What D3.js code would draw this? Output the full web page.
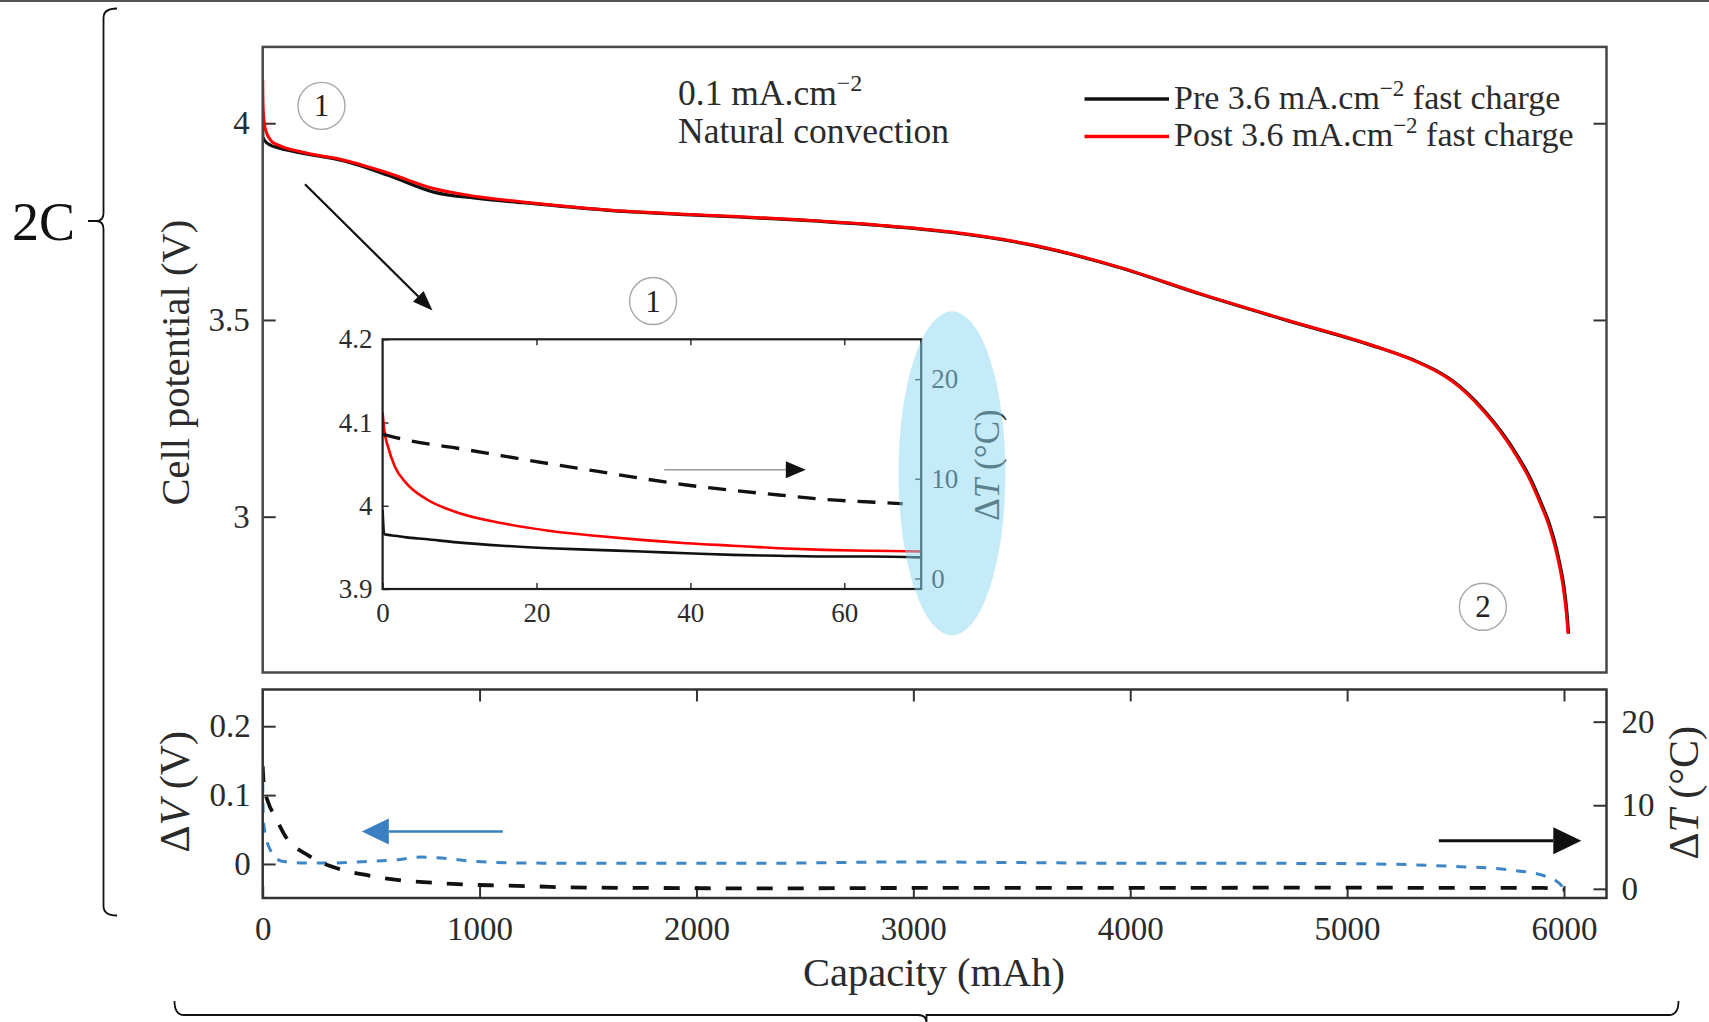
<!DOCTYPE html>
<html>
<head>
<meta charset="utf-8">
<script src="https://cdn.jsdelivr.net/npm/d3@7"></script>
<style>
  body { margin: 0; background: #fff; }
  svg { display: block; font-family: "Liberation Serif", "Times New Roman", serif; }
</style>
</head>
<body>
<svg id="fig" width="1709" height="1022"></svg>
<script>
// ---- Discharge curves, 0.1 mA.cm^-2, natural convection (capacity mAh, cell potential V) ----
const preCap  = [0, 0.3, 10, 40, 70, 170, 376, 582, 788, 994, 1200, 1611, 2023, 2434, 2846, 3169, 3557, 3945, 4333, 4721, 5109, 5308, 5405, 5485, 5555, 5632, 5709, 5786, 5847, 5894, 5932, 5955, 5977, 6000, 6014, 6021];
const preV    = [3.995, 3.965, 3.955, 3.943, 3.938, 3.925, 3.904, 3.867, 3.825, 3.809, 3.798, 3.778, 3.766, 3.755, 3.740, 3.723, 3.689, 3.634, 3.564, 3.499, 3.436, 3.398, 3.373, 3.346, 3.314, 3.270, 3.218, 3.155, 3.095, 3.036, 2.983, 2.941, 2.890, 2.822, 2.754, 2.703];
const postCap = [0, 0.7, 1.6, 3.1, 5.5, 9.7, 15.6, 39.5, 70, 170, 376, 582, 788, 994, 1200, 1611, 2023, 2434, 2846, 3169, 3557, 3945, 4333, 4721, 5109, 5303, 5400, 5480, 5550, 5627, 5704, 5781, 5842, 5889, 5927, 5950, 5973, 5996, 6011, 6019];
const postV   = [4.110, 4.071, 4.047, 4.027, 4.009, 3.992, 3.979, 3.955, 3.945, 3.928, 3.906, 3.873, 3.834, 3.813, 3.800, 3.779, 3.767, 3.756, 3.741, 3.724, 3.690, 3.635, 3.565, 3.500, 3.437, 3.398, 3.373, 3.346, 3.314, 3.270, 3.218, 3.155, 3.095, 3.036, 2.983, 2.941, 2.890, 2.822, 2.754, 2.703];

// ---- Difference panel: potential difference (V) and temperature difference (°C) ----
const dVCap = [0, 3, 18, 34, 88, 195, 318, 502, 625, 733, 825, 963, 1194, 1501, 2270, 3000, 3500, 4000, 4500, 5000, 5487, 5740, 5917, 5992, 6005];
const dV    = [0.118, 0.065, 0.035, 0.021, 0.004, 0.0015, 0.0015, 0.004, 0.0063, 0.010, 0.0087, 0.004, 0.0015, 0.001, 0.001, 0.003, 0.002, 0.001, 0.001, 0.0005, -0.0035, -0.0083, -0.018, -0.0326, -0.047];
const dTCap = [0, 5, 26, 57, 103, 210, 349, 487, 641, 794, 963, 1102, 1271, 1424, 1655, 1962, 2223, 3000, 4000, 5000, 5500, 5900, 6000];
const dT    = [14.7, 12.5, 10.3, 8.7, 6.35, 4.0, 2.4, 1.6, 1.0, 0.71, 0.48, 0.40, 0.28, 0.16, 0.12, 0.08, 0.04, 0.10, 0.10, 0.15, 0.10, 0.10, -0.10];

// ---- Zoom on the first 70 mAh ----
const insetCap  = [0, 0.2, 0.7, 1.6, 3.1, 5.5, 9.7, 15.6, 21.6, 27.6, 33.6, 39.5, 45.5, 51.5, 57.4, 63.4, 70];
const insetPost = [4.112, 4.092, 4.071, 4.047, 4.027, 4.009, 3.992, 3.979, 3.970, 3.964, 3.959, 3.955, 3.952, 3.949, 3.947, 3.946, 3.945];
const insetPre  = [3.995, 3.966, 3.965, 3.964, 3.962, 3.960, 3.956, 3.952, 3.949, 3.947, 3.945, 3.943, 3.941, 3.940, 3.939, 3.939, 3.938];
const insetDTCap = [0, 3.7, 9.7, 15.6, 21.6, 27.6, 33.6, 39.5, 45.5, 51.5, 57.4, 63.4, 67.6];
const insetDT    = [14.47, 13.8, 13.07, 12.3, 11.52, 10.79, 10.05, 9.38, 8.84, 8.38, 7.94, 7.67, 7.5];

// ---- Ticks ----
const capTicks = [0, 1000, 2000, 3000, 4000, 5000, 6000];
const capTickLabels = ["0", "1000", "2000", "3000", "4000", "5000", "6000"];
const vTicks = [3, 3.5, 4];
const vTickLabels = ["3", "3.5", "4"];
const dVTicks = [0, 0.1, 0.2];
const dVTickLabels = ["0", "0.1", "0.2"];
const dTTicks = [0, 10, 20];
const dTTickLabels = ["0", "10", "20"];
const insetCapTicks = [0, 20, 40, 60];
const insetCapTickLabels = ["0", "20", "40", "60"];
const insetVTicks = [3.9, 4, 4.1, 4.2];
const insetVTickLabels = ["3.9", "4", "4.1", "4.2"];

const svg = d3.select("#fig");
const W = 1709, H = 1022;
const FONT = '"Liberation Serif", "Times New Roman", serif';
const INK = "#2b2b2b";
const TICK_FS = 33, INSET_FS = 27, TITLE_FS = 40.5;

// page rule at the very top
svg.append("line").attr("x1", 0).attr("x2", W).attr("y1", 1).attr("y2", 1)
  .attr("stroke", "#555").attr("stroke-width", 2);

// panel frames
const P = { l: 262.7, r: 1606.5, t: 46.9, b: 672.5 };   // potential panel
const B = { t: 689.5, b: 898 };                        // difference panel
const I = { l: 382.6, r: 921.2, t: 339.3, b: 589 };    // zoom inset

const x   = d3.scaleLinear().domain([0, 6196]).range([P.l, P.r]);
const yV  = d3.scaleLinear().domain([2.604, 4.194]).range([P.b, P.t]);
const yDV = d3.scaleLinear().domain([-0.0494, 0.2533]).range([B.b, B.t]);
const yDT = d3.scaleLinear().domain([-1.1, 23.85]).range([B.b, B.t]);
const xi  = d3.scaleLinear().domain([0, 70]).range([I.l, I.r]);
const yi  = d3.scaleLinear().domain([3.9, 4.2]).range([I.b, I.t]);
const yiT = d3.scaleLinear().domain([-1.06, 24.0]).range([I.b, I.t]);

function styleAxis(g, fs, tickW) {
  g.attr("font-family", FONT).attr("font-size", fs);
  g.select(".domain").remove();
  g.selectAll(".tick line").attr("stroke", "#333").attr("stroke-width", tickW || 2);
  g.selectAll(".tick text").attr("fill", INK);
}
const lbl = arr => (d, i) => arr[i];

const defs = svg.append("defs");
defs.append("clipPath").attr("id", "clipMain").append("rect")
  .attr("x", P.l).attr("y", P.t).attr("width", P.r - P.l).attr("height", P.b - P.t);
defs.append("clipPath").attr("id", "clipDiff").append("rect")
  .attr("x", P.l).attr("y", B.t).attr("width", P.r - P.l).attr("height", B.b - B.t);
defs.append("clipPath").attr("id", "clipInset").append("rect")
  .attr("x", I.l).attr("y", I.t).attr("width", I.r - I.l).attr("height", I.b - I.t);

// ================= potential panel =================
styleAxis(svg.append("g").attr("transform", `translate(${P.l},0)`)
  .call(d3.axisLeft(yV).tickValues(vTicks).tickFormat(lbl(vTickLabels)).tickSize(-13).tickPadding(13)), TICK_FS);
styleAxis(svg.append("g").attr("transform", `translate(${P.r},0)`)
  .call(d3.axisRight(yV).tickValues(vTicks).tickFormat("").tickSize(-13)), TICK_FS);

const lineV = d3.line().x(d => x(d[0])).y(d => yV(d[1])).curve(d3.curveMonotoneX);
const gMain = svg.append("g").attr("clip-path", "url(#clipMain)");
gMain.append("path").datum(d3.zip(preCap, preV)).attr("d", lineV)
  .attr("fill", "none").attr("stroke", "#111").attr("stroke-width", 3.2);
gMain.append("path").datum(d3.zip(postCap, postV)).attr("d", lineV)
  .attr("fill", "none").attr("stroke", "#ff0000").attr("stroke-width", 3);

svg.append("rect").attr("x", P.l).attr("y", P.t).attr("width", P.r - P.l).attr("height", P.b - P.t)
  .attr("fill", "none").attr("stroke", "#474747").attr("stroke-width", 2.5);

// ================= difference panel =================
styleAxis(svg.append("g").attr("transform", `translate(0,${B.b})`)
  .call(d3.axisBottom(x).tickValues(capTicks).tickFormat(lbl(capTickLabels)).tickSize(-12).tickPadding(19)), TICK_FS);
styleAxis(svg.append("g").attr("transform", `translate(0,${B.t})`)
  .call(d3.axisTop(x).tickValues(capTicks.slice(1)).tickFormat("").tickSize(-12)), TICK_FS);
styleAxis(svg.append("g").attr("transform", `translate(${P.l},0)`)
  .call(d3.axisLeft(yDV).tickValues(dVTicks).tickFormat(lbl(dVTickLabels)).tickSize(-13).tickPadding(12)), TICK_FS);
styleAxis(svg.append("g").attr("transform", `translate(${P.r},0)`)
  .call(d3.axisRight(yDT).tickValues(dTTicks).tickFormat(lbl(dTTickLabels)).tickSize(-13).tickPadding(15)), TICK_FS);

const gDiff = svg.append("g").attr("clip-path", "url(#clipDiff)");
gDiff.append("path").datum(d3.zip(dVCap, dV))
  .attr("d", d3.line().x(d => x(d[0])).y(d => yDV(d[1])).curve(d3.curveMonotoneX))
  .attr("fill", "none").attr("stroke", "#3f86c6").attr("stroke-width", 3).attr("stroke-dasharray", "10,10");
gDiff.append("path").datum(d3.zip(dTCap, dT))
  .attr("d", d3.line().x(d => x(d[0])).y(d => yDT(d[1])).curve(d3.curveMonotoneX))
  .attr("fill", "none").attr("stroke", "#111").attr("stroke-width", 3.8).attr("stroke-dasharray", "16,15");

svg.append("rect").attr("x", P.l).attr("y", B.t).attr("width", P.r - P.l).attr("height", B.b - B.t)
  .attr("fill", "none").attr("stroke", "#333").attr("stroke-width", 2.5);

// ================= inset =================
svg.append("rect").attr("x", I.l).attr("y", I.t).attr("width", I.r - I.l).attr("height", I.b - I.t)
  .attr("fill", "#fff");
styleAxis(svg.append("g").attr("transform", `translate(${I.l},0)`)
  .call(d3.axisLeft(yi).tickValues(insetVTicks).tickFormat(lbl(insetVTickLabels)).tickSize(-6).tickPadding(10)), INSET_FS, 1.5);
styleAxis(svg.append("g").attr("transform", `translate(0,${I.b})`)
  .call(d3.axisBottom(xi).tickValues(insetCapTicks).tickFormat(lbl(insetCapTickLabels)).tickSize(-6).tickPadding(14)), INSET_FS, 1.5);
styleAxis(svg.append("g").attr("transform", `translate(0,${I.t})`)
  .call(d3.axisTop(xi).tickValues(insetCapTicks.slice(1)).tickFormat("").tickSize(-6)), INSET_FS, 1.5);
styleAxis(svg.append("g").attr("transform", `translate(${I.r},0)`)
  .call(d3.axisRight(yiT).tickValues(dTTicks).tickFormat(lbl(dTTickLabels)).tickSize(-6).tickPadding(10)), INSET_FS, 1.5);

const gIn = svg.append("g").attr("clip-path", "url(#clipInset)");
const lineI = d3.line().x(d => xi(d[0])).y(d => yi(d[1])).curve(d3.curveMonotoneX);
gIn.append("path").datum(d3.zip(insetCap, insetPre)).attr("d", lineI)
  .attr("fill", "none").attr("stroke", "#111").attr("stroke-width", 2.6);
gIn.append("path").datum(d3.zip(insetCap, insetPost)).attr("d", lineI)
  .attr("fill", "none").attr("stroke", "#ff0000").attr("stroke-width", 2.6);
gIn.append("path").datum(d3.zip(insetDTCap, insetDT))
  .attr("d", d3.line().x(d => xi(d[0])).y(d => yiT(d[1])).curve(d3.curveMonotoneX))
  .attr("fill", "none").attr("stroke", "#111").attr("stroke-width", 3.4).attr("stroke-dasharray", "18,12");

svg.append("rect").attr("x", I.l).attr("y", I.t).attr("width", I.r - I.l).attr("height", I.b - I.t)
  .attr("fill", "none").attr("stroke", "#1c1c1c").attr("stroke-width", 2.2);

// ΔT label of the inset's right axis
const tIn = svg.append("text").attr("font-size", 35).attr("fill", INK).attr("text-anchor", "middle")
  .attr("transform", `translate(999,465) rotate(-90)`);
tIn.append("tspan").text("Δ");
tIn.append("tspan").attr("font-style", "italic").text("T");
tIn.append("tspan").text(" (°C)");

// highlight over the inset's temperature axis
svg.append("ellipse").attr("cx", xi(74)).attr("cy", yi(4.039)).attr("rx", 53.5).attr("ry", 162)
  .attr("fill", "rgb(139,213,241)").attr("fill-opacity", 0.5);

// ================= arrows =================
function arrow(x1, y1, x2, y2, o) {
  const a = Math.atan2(y2 - y1, x2 - x1);
  const bx = x2 - o.head * Math.cos(a), by = y2 - o.head * Math.sin(a);
  const px = -Math.sin(a) * o.half, py = Math.cos(a) * o.half;
  svg.append("line").attr("x1", x1).attr("y1", y1).attr("x2", bx).attr("y2", by)
    .attr("stroke", o.line).attr("stroke-width", o.w);
  svg.append("path").attr("d", `M${x2},${y2}L${bx + px},${by + py}L${bx - px},${by - py}Z`).attr("fill", o.fill);
}
// toward the zoomed start of discharge
arrow(x(195), yV(3.845), x(783), yV(3.524), { line: "#111", fill: "#111", w: 2.2, head: 20, half: 7.5 });
// inset dashed curve reads on the right axis
arrow(xi(36.6), yi(4.0432), xi(55.0), yi(4.0432), { line: "#9a9a9a", fill: "#111", w: 1.6, head: 20, half: 8.5 });
// ΔV curve reads on the left axis
arrow(x(1107), yDV(0.047), x(457), yDV(0.047), { line: "#3a7fc1", fill: "#3a7fc1", w: 2.5, head: 27, half: 13 });
// ΔT curve reads on the right axis
arrow(x(5423), yDT(5.76), x(6080), yDT(5.76), { line: "#111", fill: "#111", w: 3, head: 28, half: 13.5 });

// ================= circled markers =================
function marker(cx, cy, s) {
  svg.append("circle").attr("cx", cx).attr("cy", cy).attr("r", 23.5)
    .attr("fill", "none").attr("stroke", "#a8a8a8").attr("stroke-width", 1.4);
  svg.append("text").attr("x", cx).attr("y", cy + 10.5).attr("text-anchor", "middle")
    .attr("font-size", 31).attr("fill", "#222").text(s);
}
marker(x(271), yV(4.044), "1");
marker(x(1800), yV(3.548), "1");
marker(x(5626), yV(2.771), "2");

// ================= legend and condition =================
const cond1 = svg.append("text").attr("x", 678).attr("y", 105).attr("font-size", 35.5).attr("fill", INK);
cond1.append("tspan").text("0.1 mA.cm");
cond1.append("tspan").attr("dy", -14).attr("font-size", 24).text("−2");
svg.append("text").attr("x", 678).attr("y", 143).attr("font-size", 35.5).attr("fill", INK).text("Natural convection");

const legendItems = [
  { pre: "Pre 3.6 mA.cm", color: "#111", y: 99 },
  { pre: "Post 3.6 mA.cm", color: "#ff0000", y: 136.5 }
];
legendItems.forEach(it => {
  svg.append("line").attr("x1", 1084.5).attr("x2", 1169).attr("y1", it.y).attr("y2", it.y)
    .attr("stroke", it.color).attr("stroke-width", 3.5);
  const t = svg.append("text").attr("x", 1174).attr("y", it.y + 9.5).attr("font-size", 34).attr("fill", INK);
  t.append("tspan").text(it.pre);
  t.append("tspan").attr("dy", -13).attr("font-size", 23).text("−2");
  t.append("tspan").attr("dy", 13).text(" fast charge");
});

// ================= axis titles =================
svg.append("text").attr("font-size", TITLE_FS).attr("fill", INK).attr("text-anchor", "middle")
  .attr("transform", `translate(189,${(P.t + P.b) / 2 + 3}) rotate(-90)`).text("Cell potential (V)");
const tDV = svg.append("text").attr("font-size", 42).attr("fill", INK).attr("text-anchor", "middle")
  .attr("transform", `translate(189,${(B.t + B.b) / 2 - 2}) rotate(-90)`);
tDV.append("tspan").text("Δ");
tDV.append("tspan").attr("font-style", "italic").text("V");
tDV.append("tspan").text(" (V)");
const tDT = svg.append("text").attr("font-size", 42).attr("fill", INK).attr("text-anchor", "middle")
  .attr("transform", `translate(1698,${(B.t + B.b) / 2 - 1}) rotate(-90)`);
tDT.append("tspan").text("Δ");
tDT.append("tspan").attr("font-style", "italic").text("T");
tDT.append("tspan").text(" (°C)");
svg.append("text").attr("x", 934).attr("y", 986).attr("font-size", TITLE_FS).attr("fill", INK)
  .attr("text-anchor", "middle").text("Capacity (mAh)");

// ================= braces =================
svg.append("path")
  .attr("d", "M117,8.5 Q103.5,8.5 103.5,18 L103.5,213 Q103.5,221 96,221 L88,221 L96,221 Q103.5,221 103.5,229 L103.5,906 Q103.5,915.5 117,915.5")
  .attr("fill", "none").attr("stroke", "#111").attr("stroke-width", 1.8);
svg.append("text").attr("x", 12).attr("y", 240).attr("font-size", 54).attr("fill", "#111").text("2C");
svg.append("path")
  .attr("d", "M174.5,1001 Q174.5,1015 184,1015 L918,1015 Q926.5,1015 926.5,1023 L926.5,1015 Q926.5,1015 935,1015 L1669,1015 Q1678.5,1015 1678.5,1001")
  .attr("fill", "none").attr("stroke", "#111").attr("stroke-width", 1.8);
</script>
</body>
</html>
